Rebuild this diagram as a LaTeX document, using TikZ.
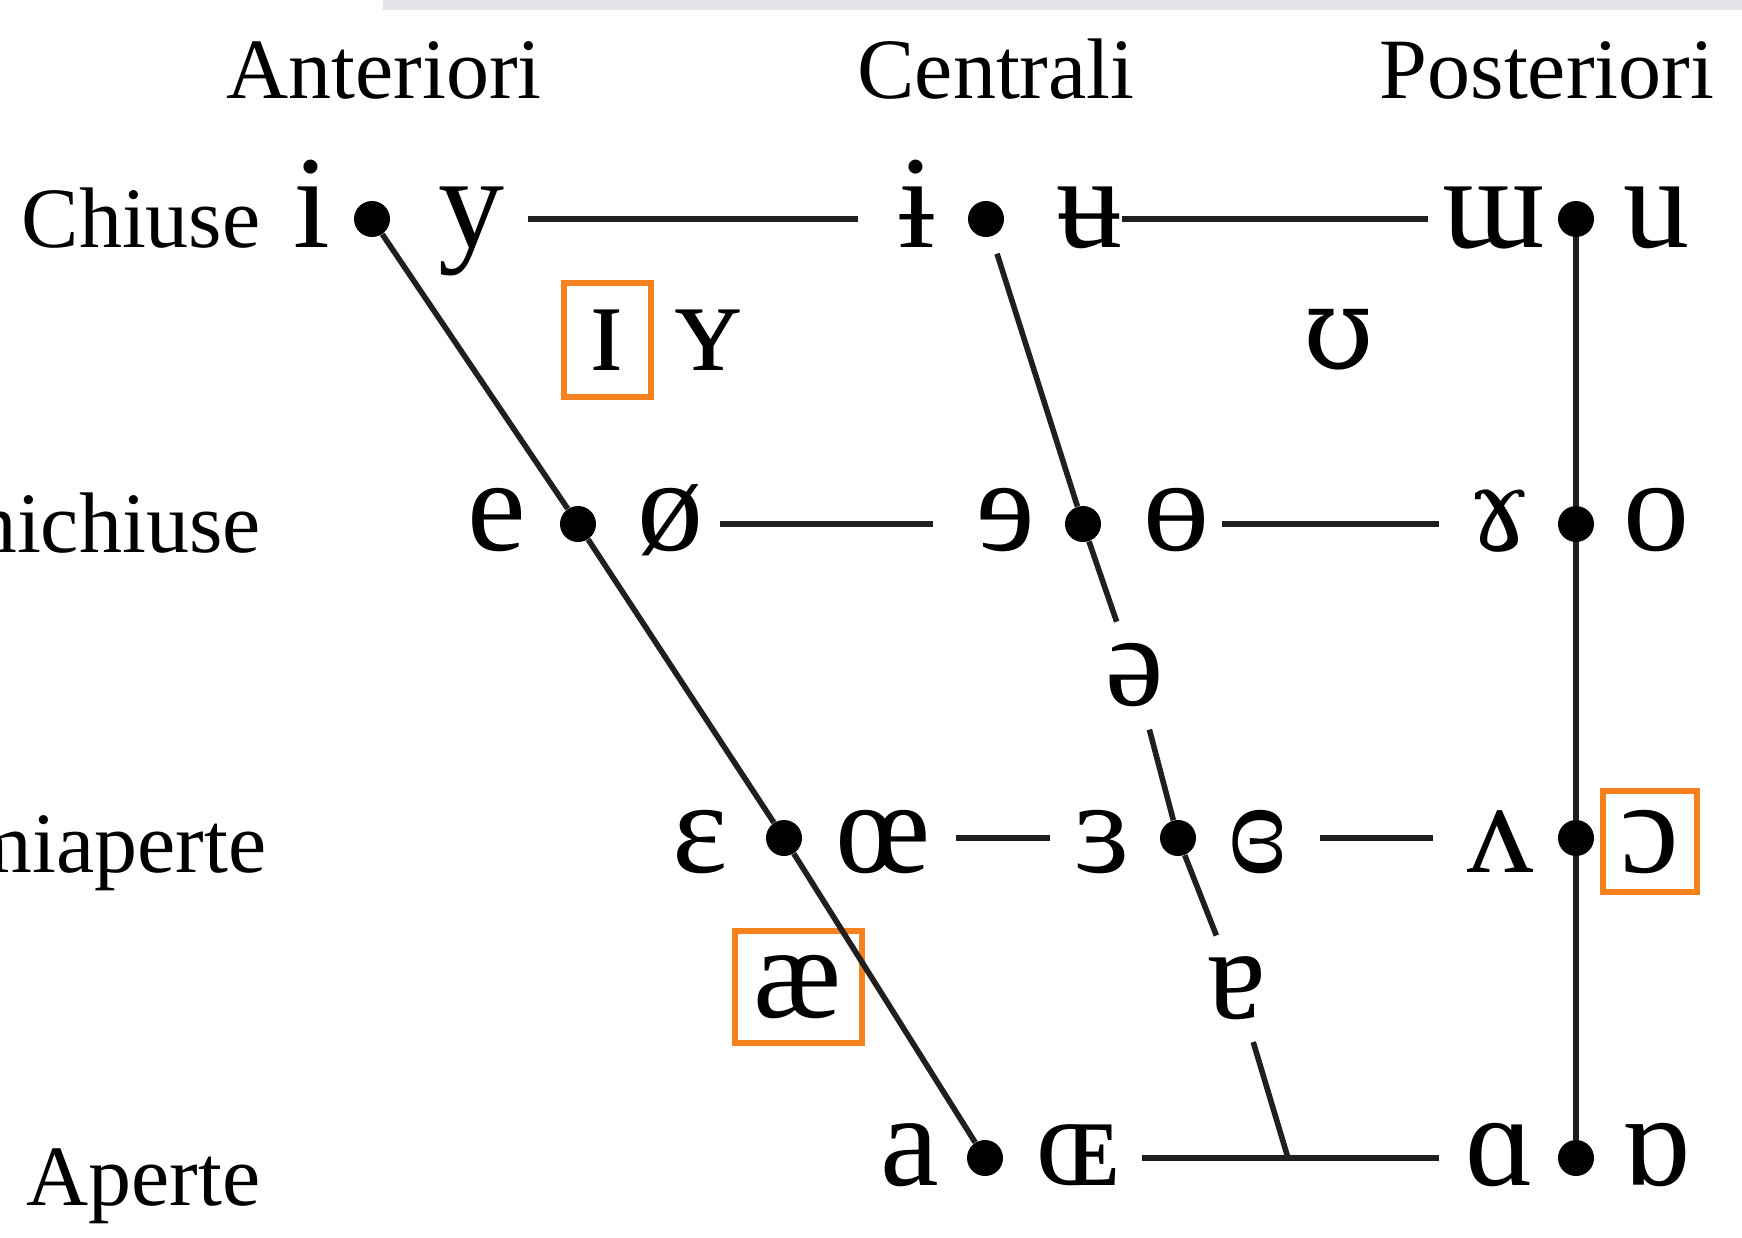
\documentclass[tikz,border=0pt]{standalone}
\usepackage{fontspec}
\setmainfont{Liberation Serif}
\newfontfamily\altipa{DejaVu Serif}
\definecolor{boxorange}{HTML}{F5821F}
\definecolor{bargrey}{HTML}{E3E5E9}
\begin{document}
\begin{tikzpicture}[x=0.5pt,y=-0.5pt,
  ipa/.style={font=\fontsize{66}{70}\selectfont, inner sep=0pt, anchor=base},
  ipaalt/.style={font=\altipa\fontsize{57}{64}\selectfont, inner sep=0pt, anchor=base},
  lab/.style={font=\fontsize{43}{48}\selectfont, inner sep=0pt},
  vdot/.style={circle, fill=black, minimum size=18pt, inner sep=0pt},
  ln/.style={line width=2.8pt, draw=black!88},
  gapnode/.style={circle, minimum size=56pt, inner sep=0pt, font=\fontsize{66}{70}\selectfont},
  obox/.style={draw=boxorange, line width=3pt}]
\useasboundingbox (0,0) rectangle (1742,1238);
\clip (0,0) rectangle (1742,1238);
\fill[bargrey] (383,0) rectangle (1742,10);

% column and row labels
\node[lab, anchor=base] (hA) at (384,98) {Anteriori};
\node[lab, anchor=base] (hC) at (996,98) {Centrali};
\node[lab, anchor=base] (hP) at (1547,98) {Posteriori};
\node[lab, anchor=base east] (r1) at (261,247) {Chiuse};
\node[lab, anchor=base east] (r2) at (261,552) {Semichiuse};
\node[lab, anchor=base east] (r3) at (267,872) {Semiaperte};
\node[lab, anchor=base east] (r4) at (261,1205) {Aperte};

% dots
\node[vdot] (d1A) at (372,219) {};
\node[vdot] (d1C) at (986,219) {};
\node[vdot] (d1P) at (1576,219) {};
\node[vdot] (d2A) at (578,524) {};
\node[vdot] (d2C) at (1083,524) {};
\node[vdot] (d2P) at (1576,524) {};
\node[vdot] (d3A) at (784,838) {};
\node[vdot] (d3C) at (1178,838) {};
\node[vdot] (d3P) at (1576,838) {};
\node[vdot] (d4A) at (985,1158) {};
\node[vdot] (d4P) at (1576,1158) {};
\coordinate (jn) at (1288,1158);

% vowels row 1
\node[ipa] (v-i) at (312,247) {i};
\node[ipa] (v-y) at (471,247) {y};
\node[ipa] (v-ibar) at (917,247) {ɨ};
\node[ipa] (v-ubar) at (1089,247) {ʉ};
\node[ipa] (v-wm) at (1494,247) {ɯ};
\node[ipa] (v-u) at (1656,247) {u};
% near-close
\node[ipa, obox, minimum width=43.5pt, minimum height=57pt] (v-smi) at (607,370) {ɪ};
\node[ipa] (v-smy) at (708,370) {ʏ};
\node[ipaalt] (v-hsu) at (1339,368) {ʊ};
% row 2
\node[ipa] (v-e) at (497,550) {e};
\node[ipa] (v-oslash) at (670,550) {ø};
\node[ipa] (v-reve) at (1006,550) {ɘ};
\node[ipa] (v-obar) at (1176,550) {ɵ};
\node[ipaalt] (v-ram) at (1500,550) {ɤ};
\node[ipa] (v-o) at (1656,550) {o};
% schwa
\node[gapnode] (v-schwa) at (1135,675) {ə};
% row 3
\node[ipa] (v-eps) at (700,872) {ɛ};
\node[ipa] (v-oe) at (883,872) {œ};
\node[ipa] (v-reveps) at (1102,872) {ɜ};
\node[ipa] (v-cloreveps) at (1258,872) {ɞ};
\node[ipa] (v-turnv) at (1500,872) {ʌ};
\node[ipa, obox, minimum width=47pt, minimum height=50.5pt] (v-openo) at (1650,872) {ɔ};
% near-open
\node[ipa, obox, minimum width=63.5pt, minimum height=56pt] (v-ae) at (798,1017) {æ};
\node[gapnode] (v-turna) at (1237,988) {ɐ};
% row 4
\node[ipa] (v-a) at (910,1185) {a};
\node[ipa] (v-smoe) at (1078,1185) {ɶ};
\node[ipa] (v-alpha) at (1500,1185) {ɑ};
\node[ipa] (v-turnalpha) at (1656,1185) {ɒ};

% front line
\draw[ln] (d1A) -- (d2A) -- (d3A) -- (d4A);
% central line
\draw[ln, shorten <=9pt] (d1C) -- (d2C);
\draw[ln] (d2C) -- (v-schwa);
\draw[ln] (v-schwa) -- (d3C);
\draw[ln] (d3C) -- (v-turna);
\draw[ln] (v-turna) -- (jn);
% back line
\draw[ln] (d1P) -- (d2P) -- (d3P) -- (d4P);
% horizontal lines
\draw[ln, shorten <=69pt, shorten >=55pt] (d1A) -- (d1C);
\draw[ln, shorten <=59pt, shorten >=65pt] (d1C) -- (d1P);
\draw[ln, shorten <=62pt, shorten >=66pt] (d2A) -- (d2C);
\draw[ln, shorten <=60.5pt, shorten >=59.5pt] (d2C) -- (d2P);
\draw[ln, shorten <=77pt, shorten >=55pt] (d3A) -- (d3C);
\draw[ln, shorten <=62pt, shorten >=62.5pt] (d3C) -- (d3P);
\draw[ln, shorten <=69.5pt, shorten >=59.5pt] (d4A) -- (d4P);
\end{tikzpicture}
\end{document}
